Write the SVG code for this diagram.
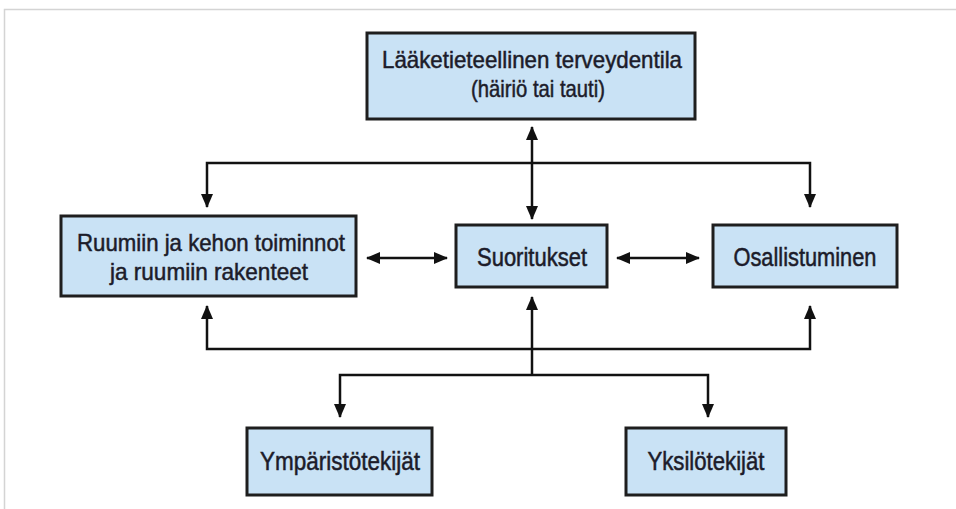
<svg xmlns="http://www.w3.org/2000/svg" width="956" height="509" viewBox="0 0 956 509">
<defs>
<marker id="ah" markerUnits="userSpaceOnUse" markerWidth="14" markerHeight="12" viewBox="0 0 14 12" refX="13" refY="6" orient="auto-start-reverse">
<path d="M0,0 L14,6 L0,12 z" fill="#111"/>
</marker>
<style>
.box{fill:#c9e2f5;stroke:#1e1e1e;stroke-width:3}
.t{font-family:"Liberation Sans",Arial,sans-serif;font-size:25px;fill:#1c1c2a;stroke:#1c1c2a;stroke-width:0.5;text-anchor:middle}
.t2{font-size:24px}
.c{fill:none;stroke:#111;stroke-width:2.5}
</style>
</defs>
<rect width="956" height="509" fill="#fff"/>
<path d="M4.5,509 V9.5 H956" fill="none" stroke="#d4d4d4" stroke-width="1.5"/>
<g id="n-laaketieteellinen">
<rect class="box" x="367" y="33" width="328" height="86"/>
<text class="t t2" x="532" y="68" textLength="300" lengthAdjust="spacingAndGlyphs">Lääketieteellinen terveydentila</text>
<text class="t t2" x="538" y="97" textLength="134" lengthAdjust="spacingAndGlyphs">(häiriö tai tauti)</text>
</g>
<g id="n-ruumiin">
<rect class="box" x="61" y="216" width="295" height="80"/>
<text class="t t2" x="211" y="251" textLength="268" lengthAdjust="spacingAndGlyphs">Ruumiin ja kehon toiminnot</text>
<text class="t t2" x="209" y="280" textLength="198" lengthAdjust="spacingAndGlyphs">ja ruumiin rakenteet</text>
</g>
<g id="n-suoritukset">
<rect class="box" x="456" y="225" width="151" height="62"/>
<text class="t" x="532" y="266" textLength="110" lengthAdjust="spacingAndGlyphs">Suoritukset</text>
</g>
<g id="n-osallistuminen">
<rect class="box" x="713" y="225" width="184" height="62"/>
<text class="t" x="805" y="266" textLength="143" lengthAdjust="spacingAndGlyphs">Osallistuminen</text>
</g>
<g id="n-ymparistotekijat">
<rect class="box" x="247" y="428" width="185" height="67"/>
<text class="t" x="340" y="470" textLength="160" lengthAdjust="spacingAndGlyphs">Ympäristötekijät</text>
</g>
<g id="n-yksilotekijat">
<rect class="box" x="626" y="428" width="160" height="67"/>
<text class="t" x="706" y="470" textLength="117" lengthAdjust="spacingAndGlyphs">Yksilötekijät</text>
</g>
<g id="connectors">
<line class="c" x1="532" y1="127" x2="532" y2="219" marker-start="url(#ah)" marker-end="url(#ah)"/>
<path class="c" d="M207,207 V163 H810 V207" marker-start="url(#ah)" marker-end="url(#ah)"/>
<line class="c" x1="367" y1="258" x2="447" y2="258" marker-start="url(#ah)" marker-end="url(#ah)"/>
<line class="c" x1="617" y1="258" x2="699" y2="258" marker-start="url(#ah)" marker-end="url(#ah)"/>
<path class="c" d="M207,306 V349 H810 V306" marker-start="url(#ah)" marker-end="url(#ah)"/>
<line class="c" x1="532" y1="375" x2="532" y2="297" marker-end="url(#ah)"/>
<path class="c" d="M340,417 V375 H708 V417" marker-start="url(#ah)" marker-end="url(#ah)"/>
</g>
</svg>
